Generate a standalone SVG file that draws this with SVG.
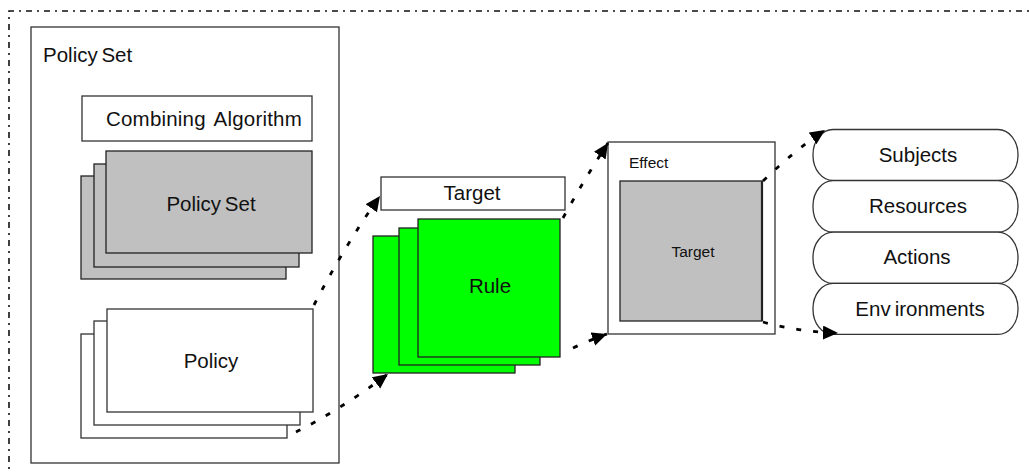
<svg xmlns="http://www.w3.org/2000/svg" width="1029" height="472" viewBox="0 0 1029 472">
  <style>
    .t { font-family: "Liberation Sans", Arial, sans-serif; font-size: 20.5px; fill: #111; }
    .ts { font-family: "Liberation Sans", Arial, sans-serif; font-size: 15.5px; fill: #111; }
    .box { fill: #fff; stroke: #333; stroke-width: 1.3; }
    .gray { fill: #c0c0c0; stroke: #222; stroke-width: 1.3; }
    .green { fill: #00ff00; stroke: #222; stroke-width: 1.3; }
    .conn { fill: none; stroke: #000; stroke-width: 2.8; stroke-dasharray: 5 12; }
  </style>
  <defs>
    <marker id="arr" markerUnits="userSpaceOnUse" markerWidth="18" markerHeight="16" refX="15" refY="7" orient="auto">
      <path d="M0,0 L15,7 L0,14 z" fill="#000"/>
    </marker>
  </defs>
  <rect width="1029" height="472" fill="#fff"/>

  <!-- outer dash-dot frame -->
  <path d="M9,480 L9,11 L1040,11" fill="none" stroke="#111" stroke-width="1.6" stroke-dasharray="6 5 2 5"/>

  <g id="policy-set-container">
    <rect class="box" x="31" y="27" width="308" height="436"/>
    <text class="t" x="43" y="62" word-spacing="-2">Policy Set</text>
  </g>

  <g id="combining-algorithm">
    <rect class="box" x="82" y="96" width="230" height="45"/>
    <text class="t" x="106" y="126" word-spacing="3" letter-spacing="0.2">Combining Algorithm</text>
  </g>

  <g id="policy-set-stack">
    <rect class="gray" x="81" y="176" width="205" height="103"/>
    <rect class="gray" x="94" y="164" width="205" height="103"/>
    <rect class="gray" x="106" y="151" width="206" height="102"/>
    <text class="t" x="211" y="211" text-anchor="middle" word-spacing="-2">Policy Set</text>
  </g>

  <g id="policy-stack">
    <rect class="box" x="81" y="334" width="206" height="104"/>
    <rect class="box" x="94" y="321" width="206" height="104"/>
    <rect class="box" x="107" y="309" width="206" height="103"/>
    <text class="t" x="211" y="368" text-anchor="middle">Policy</text>
  </g>

  <g id="target">
    <rect class="box" x="381" y="177" width="184" height="33"/>
    <text class="t" x="472" y="200" text-anchor="middle">Target</text>
  </g>

  <g id="rule-stack">
    <rect class="green" x="373" y="236" width="142" height="137"/>
    <rect class="green" x="399" y="228" width="141" height="137"/>
    <rect class="green" x="418" y="219" width="142" height="138"/>
    <text class="t" x="490" y="293" text-anchor="middle">Rule</text>
  </g>

  <g id="effect">
    <rect class="box" x="608" y="142" width="167" height="192"/>
    <text class="ts" x="629" y="168">Effect</text>
    <rect class="gray" x="620" y="181" width="142" height="140"/>
    <line x1="762" y1="181" x2="762" y2="321" stroke="#222" stroke-width="2.2"/>
    <text class="ts" x="693" y="257" text-anchor="middle">Target</text>
  </g>

  <g id="subjects">
    <rect class="box" x="813" y="129.5" width="205" height="51" rx="20" ry="25"/>
    <text class="t" x="918" y="161.5" text-anchor="middle">Subjects</text>
  </g>
  <g id="resources">
    <rect class="box" x="813" y="180.7" width="205" height="51.5" rx="20" ry="25"/>
    <text class="t" x="918" y="213" text-anchor="middle">Resources</text>
  </g>
  <g id="actions">
    <rect class="box" x="813" y="232.2" width="205" height="51.2" rx="20" ry="25"/>
    <text class="t" x="917" y="264" text-anchor="middle">Actions</text>
  </g>
  <g id="environments">
    <rect class="box" x="813" y="283.4" width="205" height="51" rx="20" ry="25"/>
    <text class="t" x="920" y="315.5" text-anchor="middle">Env<tspan dx="4">ironments</tspan></text>
  </g>

  <g id="connectors">
    <path class="conn" d="M314,305 Q345,245 380,196" marker-end="url(#arr)"/>
    <path class="conn" d="M296,432 Q340,410 388,374" marker-end="url(#arr)"/>
    <path class="conn" d="M563,218 Q585,178 608,143" marker-end="url(#arr)"/>
    <path class="conn" d="M573,348 Q590,340 607,334" marker-end="url(#arr)"/>
    <path class="conn" d="M763,181 Q795,150 825,130" marker-end="url(#arr)"/>
    <path class="conn" d="M763,322 Q800,332 838,333" marker-end="url(#arr)"/>
  </g>
</svg>
